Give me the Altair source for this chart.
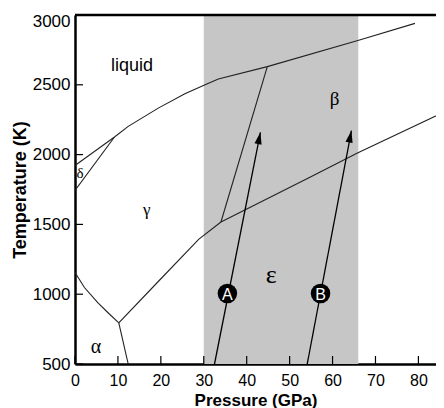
import altair as alt
import pandas as pd

# ---------------- data ----------------
x_ticks = [0, 10, 20, 30, 40, 50, 60, 70, 80]
y_ticks = [500, 1000, 1500, 2000, 2500, 3000]
x_domain = [0, 84.1]
y_domain = [500, 3000]

shade_start = [30]
shade_end = [66]

melt_p = [9.2, 12.4, 19.4, 25.6, 30.7, 33.4, 44.8, 65.9, 79.2]
melt_t = [2126, 2202, 2333, 2436, 2505, 2542, 2630, 2817, 2940]
delta_liq_p = [0, 9.2]
delta_liq_t = [1922, 2126]
gamma_delta_p = [0, 9.2]
gamma_delta_t = [1744, 2126]
alpha_gamma_p = [0, 2.2, 5.3, 7.7, 10.2]
alpha_gamma_t = [1155, 1048, 939, 867, 795]
alpha_eps_p = [10.2, 12.4]
alpha_eps_t = [795, 500]
gamma_eps_p = [10.2, 19.4, 26.8, 28.8, 34.0]
gamma_eps_t = [795, 1091, 1329, 1393, 1517]
eps_beta_low_p = [34.0, 54.5, 65.8, 86.0]
eps_beta_low_t = [1517, 1834, 2012, 2305]
eps_beta_up_p = [34.0, 44.8]
eps_beta_up_t = [1517, 2630]

arrow_names = ["A", "B"]
arrow_start_p = [32.5, 54.1]
arrow_start_t = [500, 500]
arrow_end_p = [43.2, 64.4]
arrow_end_t = [2160, 2172]
marker_p = [35.5, 57.2]
marker_t = [1005, 1005]

sans_labels = ["liquid"]
sans_p = [13.3]
sans_t = [2637]
sans_size = [18]

greek_labels = ["β", "γ", "δ", "α", "ε"]
greek_p = [60.5, 16.7, 1.2, 4.9, 45.7]
greek_t = [2395, 1605, 1868, 623, 1134]
greek_size = [19, 17, 15, 20, 26]

# ---------------- tables ----------------
segments = {
    "melt": (melt_p, melt_t),
    "delta_liq": (delta_liq_p, delta_liq_t),
    "gamma_delta": (gamma_delta_p, gamma_delta_t),
    "alpha_gamma": (alpha_gamma_p, alpha_gamma_t),
    "alpha_eps": (alpha_eps_p, alpha_eps_t),
    "gamma_eps": (gamma_eps_p, gamma_eps_t),
    "eps_beta_low": (eps_beta_low_p, eps_beta_low_t),
    "eps_beta_up": (eps_beta_up_p, eps_beta_up_t),
}
rows = []
for name, (ps, ts) in segments.items():
    for i, (p, t) in enumerate(zip(ps, ts)):
        rows.append({"seg": name, "i": i, "p": p, "t": t})
lines_df = pd.DataFrame(rows)

arrow_rows = []
for n, p0, t0, p1, t1 in zip(arrow_names, arrow_start_p, arrow_start_t, arrow_end_p, arrow_end_t):
    arrow_rows.append({"arrow": n, "i": 0, "p": p0, "t": t0})
    arrow_rows.append({"arrow": n, "i": 1, "p": p1, "t": t1})
arrows_df = pd.DataFrame(arrow_rows)
heads_df = pd.DataFrame({"arrow": arrow_names, "p": arrow_end_p, "t": arrow_end_t})
markers_df = pd.DataFrame({"name": arrow_names, "p": marker_p, "t": marker_t})
shade_df = pd.DataFrame({"p": shade_start, "p2": shade_end})
xt_df = pd.DataFrame({"p": x_ticks})
yt_df = pd.DataFrame({"t": y_ticks})
sans_df = pd.DataFrame({"label": sans_labels, "p": sans_p, "t": sans_t, "fs": sans_size})
greek_df = pd.DataFrame({"label": greek_labels, "p": greek_p, "t": greek_t, "fs": greek_size})

W, H = 361, 349
SANS = "Liberation Sans"
SERIF = "Liberation Serif"

xscale = alt.Scale(domain=x_domain, nice=False, zero=False)
yscale = alt.Scale(domain=y_domain, nice=False, zero=False)
xaxis = alt.Axis(values=x_ticks, format="d", ticks=False, grid=False, domainColor="black",
                 domainWidth=2.5, labelFont=SANS, labelFontSize=16, labelColor="black",
                 labelPadding=8, labelFlush=False, title="Pressure (GPa)", titleFont=SANS,
                 titleFontSize=17, titleFontWeight="bold", titleColor="black",
                 titleY=41, titleBaseline="alphabetic")
yaxis = alt.Axis(values=y_ticks, format="d", ticks=False, grid=False, domainColor="black",
                 domainWidth=2.5, labelFont=SANS, labelFontSize=17, labelColor="black",
                 labelPadding=5, labelFlush=False,
                 labelOffset={"condition": {"test": "datum.value == 3000", "value": 6}, "value": 0},
                 title="Temperature (K)", titleFont=SANS, titleFontSize=18,
                 titleFontWeight="bold", titleColor="black", titlePadding=3)

X = alt.X("p:Q", scale=xscale, axis=xaxis)
Y = alt.Y("t:Q", scale=yscale, axis=yaxis)

shade = alt.Chart(shade_df).mark_rect(color="#c6c6c6").encode(
    x=X, x2="p2:Q", y=alt.value(0), y2=alt.value(H))

xticks = alt.Chart(xt_df).mark_rule(color="black", strokeWidth=1.2).encode(
    x=X, y=alt.value(H), y2=alt.value(H - 8))
yticks = alt.Chart(yt_df).mark_rule(color="black", strokeWidth=1.2).encode(
    y=Y, x=alt.value(0), x2=alt.value(8))

lines = alt.Chart(lines_df).mark_line(color="#222222", strokeWidth=1.1, clip=True).encode(
    x=X, y=Y, detail="seg:N", order="i:Q")

arrows = alt.Chart(arrows_df).mark_line(color="black", strokeWidth=1.3).encode(
    x=X, y=Y, detail="arrow:N", order="i:Q")

heads = alt.Chart(heads_df).mark_point(
    shape="M0,-1L-0.6,1L0.6,1Z", filled=True, color="black", opacity=1, size=144,
    angle=11.4, xOffset=-1.2, yOffset=5.9).encode(x=X, y=Y)

markers = alt.Chart(markers_df).mark_circle(color="black", opacity=1, size=380).encode(x=X, y=Y)
marker_text = alt.Chart(markers_df).mark_text(color="white", font=SANS, fontSize=16,
                                              baseline="middle", align="center", dy=1).encode(
    x=X, y=Y, text="name:N")

sans_text = alt.Chart(sans_df).mark_text(color="black", font=SANS, baseline="middle",
                                         align="center").encode(
    x=X, y=Y, text="label:N", size=alt.Size("fs:Q", scale=None, legend=None))
greek_text = alt.Chart(greek_df).mark_text(color="black", font=SERIF, baseline="middle",
                                           align="center").encode(
    x=X, y=Y, text="label:N", size=alt.Size("fs:Q", scale=None, legend=None))

top_border = alt.Chart(shade_df).mark_rule(color="black", strokeWidth=2.5).encode(
    x=alt.value(0), x2=alt.value(W), y=alt.value(0))

chart = alt.layer(
    shade, xticks, yticks, lines, arrows, heads, markers, marker_text, sans_text, greek_text,
    top_border
).properties(
    width=W, height=H,
    autosize=alt.AutoSizeParams(type="none"),
    padding={"left": 67, "top": 7, "right": 0, "bottom": 44},
    background="white",
).configure_view(stroke=None)

chart.save("out.html", embed_options={"renderer": "svg", "actions": False})
